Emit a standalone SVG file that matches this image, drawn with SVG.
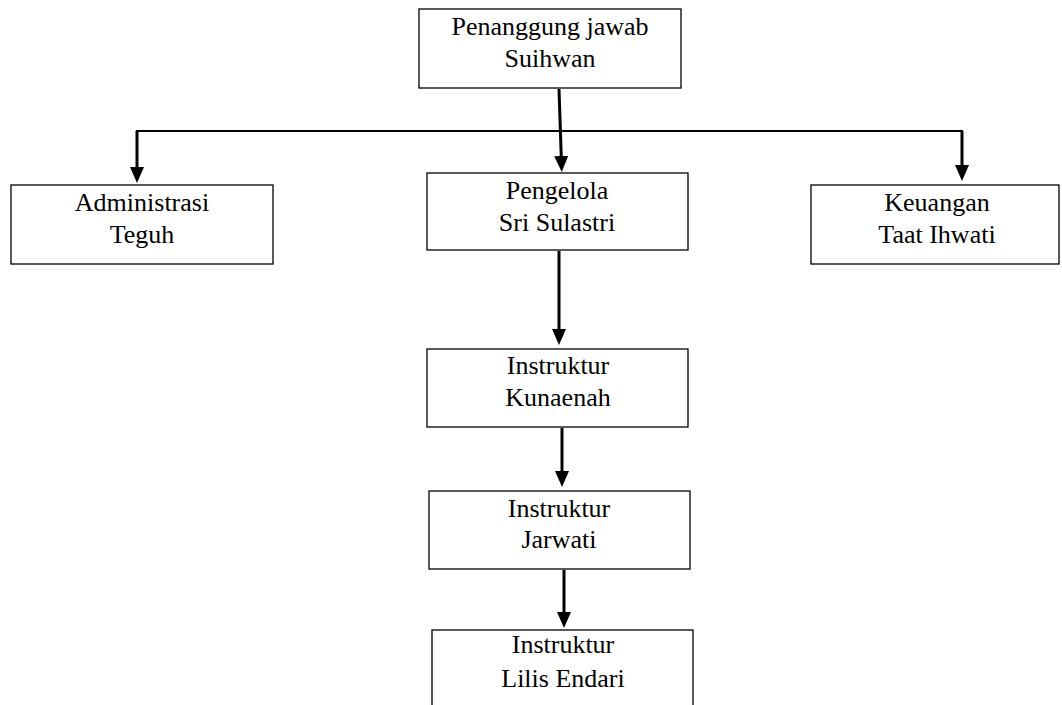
<svg xmlns="http://www.w3.org/2000/svg" width="1062" height="705" viewBox="0 0 1062 705">
<style>
.box{fill:#fff;stroke:#000;stroke-width:1.3}
.t{font-family:"Liberation Serif","Times New Roman",serif;font-size:26px;fill:#000;text-anchor:middle}
.arr{stroke:#000;stroke-width:3;fill:none;marker-end:url(#ah)}
.ln{stroke:#000;stroke-width:2;fill:none}
</style>
<defs>
<marker id="ah" viewBox="0 0 16 14" markerWidth="16" markerHeight="14" refX="2" refY="7" orient="auto" markerUnits="userSpaceOnUse">
<path d="M0,0 L16,7 L0,14 z" fill="#000"/>
</marker>
</defs>
<rect width="1062" height="705" fill="#fff"/>
<g id="connectors">
<path class="ln" d="M136,131 H963"/>
<path class="arr" d="M137,131 V169"/>
<path class="arr" d="M962,131 V167"/>
<path class="arr" d="M559,89 L561.3,158"/>
<path class="arr" d="M559,251 V331"/>
<path class="arr" d="M562,428 V473"/>
<path class="arr" d="M564,570 V614"/>
</g>
<g id="penanggung">
<rect class="box" x="419" y="9" width="262" height="79"/>
<text class="t" x="550" y="35">Penanggung jawab</text>
<text class="t" x="550" y="67">Suihwan</text>
</g>
<g id="administrasi">
<rect class="box" x="11" y="185" width="262" height="79"/>
<text class="t" x="142" y="211">Administrasi</text>
<text class="t" x="142" y="243">Teguh</text>
</g>
<g id="pengelola">
<rect class="box" x="427" y="173" width="261" height="77"/>
<text class="t" x="557" y="199">Pengelola</text>
<text class="t" x="557" y="231">Sri Sulastri</text>
</g>
<g id="keuangan">
<rect class="box" x="811" y="185" width="248" height="79"/>
<text class="t" x="937" y="211">Keuangan</text>
<text class="t" x="937" y="243">Taat Ihwati</text>
</g>
<g id="kunaenah">
<rect class="box" x="427" y="349" width="261" height="78"/>
<text class="t" x="558" y="374">Instruktur</text>
<text class="t" x="558" y="406">Kunaenah</text>
</g>
<g id="jarwati">
<rect class="box" x="429" y="491" width="261" height="78"/>
<text class="t" x="559" y="517">Instruktur</text>
<text class="t" x="559" y="548">Jarwati</text>
</g>
<g id="lilis">
<rect class="box" x="432" y="630" width="261" height="90"/>
<text class="t" x="563" y="653">Instruktur</text>
<text class="t" x="563" y="687">Lilis Endari</text>
</g>
</svg>
